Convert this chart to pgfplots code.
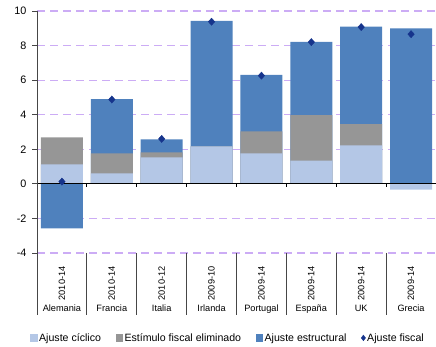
\documentclass[border=0pt]{standalone}
\usepackage{fontspec}
\setmainfont{Liberation Sans}
\usepackage{pgfplots}
\pgfplotsset{compat=1.18}

\definecolor{ciclico}{RGB}{180,199,230}
\definecolor{estimulo}{RGB}{150,150,150}
\definecolor{estructural}{RGB}{79,129,189}
\definecolor{fiscal}{RGB}{22,52,140}
\definecolor{rejilla}{RGB}{204,172,245}
\definecolor{ejes}{RGB}{70,70,70}

\begin{document}
\begin{tikzpicture}
\useasboundingbox (-37pt,-94pt) rectangle (399pt,253pt);
\begin{axis}[
  scale only axis,
  width=399pt, height=242pt,
  xmin=-0.5, xmax=7.5,
  ymin=-4, ymax=10,
  axis lines*=left,
  x axis line style={draw=none},
  y axis line style={draw=none},
  clip=false,
  xtick={0,...,7},
  xtick style={draw=none},
  xticklabels={
    {\rotatebox{90}{2010-14}\\[0pt]Alemania},
    {\rotatebox{90}{2010-14}\\[0pt]Francia},
    {\rotatebox{90}{2010-12}\\[0pt]Italia},
    {\rotatebox{90}{2009-10}\\[0pt]Irlanda},
    {\rotatebox{90}{2009-14}\\[0pt]Portugal},
    {\rotatebox{90}{2009-14}\\[0pt]España},
    {\rotatebox{90}{2009-14}\\[0pt]UK},
    {\rotatebox{90}{2009-14}\\[0pt]Grecia}},
  xticklabel style={anchor=north, align=center, yshift=-5pt,
    font=\fontsize{9.2}{11}\selectfont},
  ytick={-4,-2,...,10},
  tick align=outside,
  major tick length=5pt,
  ytick style={color=ejes, line width=0.8pt},
  yticklabel style={font=\fontsize{10.8}{12}\selectfont, xshift=-2pt},
  /pgf/number format/assume math mode=true,
  ymajorgrids,
  major grid style={color=rejilla, line width=1.1pt, dash pattern=on 8pt off 5pt},
  legend columns=4,
  legend style={at={(0.478,-0.351)}, anchor=center, draw=none, fill=none,
    font=\fontsize{10.6}{12}\selectfont,
    nodes={inner xsep=1.5pt},
    /tikz/every even column/.append style={column sep=13pt}},
  legend image code/.code={\fill[#1,draw=none] (0pt,-3.8pt) rectangle (7.5pt,3.8pt);},
]
% Stacked components drawn back to front as cumulative heights
\addplot[ybar, bar width=42pt, bar shift=0pt, fill=estructural, draw=none, forget plot]
  coordinates {(0,-2.58) (1,4.90) (2,2.58) (3,9.43) (4,6.30) (5,8.22) (6,9.09) (7,8.99)};
\addplot[ybar, bar width=42pt, bar shift=0pt, fill=estimulo, draw=none, forget plot]
  coordinates {(0,2.69) (1,1.76) (2,1.82) (3,2.17) (4,3.04) (5,3.97) (6,3.45) (7,0)};
\addplot[ybar, bar width=42pt, bar shift=0pt, fill=ciclico, draw=none, forget plot]
  coordinates {(0,1.12) (1,0.60) (2,1.53) (3,2.17) (4,1.76) (5,1.35) (6,2.23) (7,-0.33)};
% Total fiscal adjustment
\addplot[only marks, mark=diamond*, mark size=3.6pt, mark options={xscale=1.2}, color=fiscal, forget plot]
  coordinates {(0,0.13) (1,4.88) (2,2.60) (3,9.38) (4,6.26) (5,8.20) (6,9.07) (7,8.66)};

% zero line with category ticks
\draw[black, line width=0.9pt] (axis cs:-0.5,0) -- (axis cs:7.5,0);
\pgfplotsinvokeforeach{0.5,1.5,2.5,3.5,4.5,5.5,6.5}{
  \draw[black, line width=0.8pt] (axis cs:#1,0) -- ([yshift=-3pt]axis cs:#1,0);
  \draw[ejes, line width=0.9pt] (axis cs:#1,-4) -- ([yshift=-62pt]axis cs:#1,-4);
}
% vertical axis, extended through the category band
\draw[ejes, line width=1pt] (axis cs:-0.5,10) -- ([yshift=-62pt]axis cs:-0.5,-4);

\addlegendimage{fill=ciclico}
\addlegendentry{Ajuste cíclico}
\addlegendimage{fill=estimulo}
\addlegendentry{Estímulo fiscal eliminado}
\addlegendimage{fill=estructural}
\addlegendentry{Ajuste estructural}
\addlegendimage{legend image code/.code={\fill[fiscal] (3.75pt,-2.8pt) -- (5.9pt,0pt) -- (3.75pt,2.8pt) -- (1.6pt,0pt) -- cycle;}}
\addlegendentry{Ajuste fiscal}
\end{axis}
\end{tikzpicture}
\end{document}
